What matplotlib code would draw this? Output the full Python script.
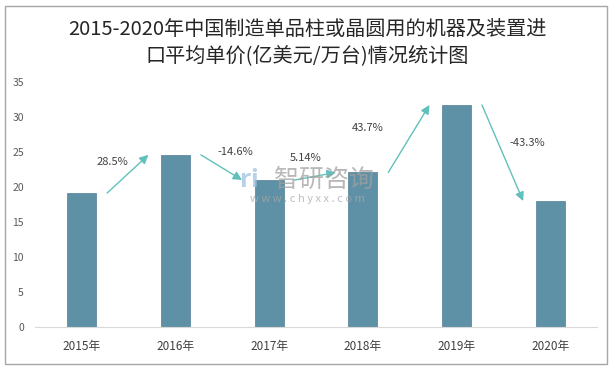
import matplotlib.pyplot as plt
import matplotlib.patches as patches
import numpy as np

plt.rcParams['font.family'] = ['Noto Sans CJK SC', 'DejaVu Sans']

years = ['2015年', '2016年', '2017年', '2018年', '2019年', '2020年']
prices = [19.15, 24.6, 21.0, 22.08, 31.73, 18.0]
growth = ['28.5%', '-14.6%', '5.14%', '43.7%', '-43.3%']

# label offsets from arrow start (x in categories, y in data units)
lab_off = [(0.06, 4.4), (0.37, 0.4), (0.12, 3.1), (-0.22, 6.3), (0.48, -5.4)]

bar_c = '#5E90A6'
arr_c = '#62C0BC'

fig = plt.figure(figsize=(6.15, 3.7), dpi=100)
ax = fig.add_axes([0.057, 0.1162, 0.914, 0.662])

x = np.arange(len(years))
ax.bar(x, prices, width=0.31, color=bar_c, edgecolor='#4F7F95', linewidth=0.5, zorder=2)

for i, g in enumerate(growth):
    x0, y0 = i + 0.27, prices[i]
    x1, y1 = i + 0.71, prices[i + 1]
    ax.annotate('', xy=(x1, y1), xytext=(x0, y0),
                arrowprops=dict(arrowstyle='-|>', color=arr_c, lw=1.0,
                                mutation_scale=13, shrinkA=0, shrinkB=0),
                zorder=3)
    dx, dy = lab_off[i]
    ax.text(x0 + dx, y0 + dy, g, fontsize=8, color='#404040',
            ha='center', va='center', zorder=4)

ax.set_xlim(-0.5, 5.5)
ax.set_ylim(0, 35)
ax.set_yticks(np.arange(0, 36, 5))
ax.set_xticks(x)
ax.set_xticklabels(years)
ax.tick_params(axis='y', length=0, labelsize=7.5, labelcolor='#595959', pad=8)
ax.tick_params(axis='x', length=0, labelsize=8.5, labelcolor='#404040', pad=9)
for s in ['top', 'right', 'left']:
    ax.spines[s].set_visible(False)
ax.spines['bottom'].set_color('#D9D9D9')

# watermark
fig.text(0.527, 0.514, '智研咨询', fontsize=18, color='#A0A0A0', alpha=0.75,
         ha='center', va='center')
fig.text(0.500, 0.463, 'w w w . c h y x x . c o m', fontsize=8, color='#A8A8A8',
         alpha=0.75, ha='center', va='center')
fig.text(0.405, 0.514, 'ri', fontsize=18, color='#9EC3DE', alpha=0.75,
         ha='center', va='center', fontweight='bold')

fig.text(0.5, 0.919, '2015-2020年中国制造单品柱或晶圆用的机器及装置进',
         fontsize=14.5, color='#262626', ha='center', va='center')
fig.text(0.5, 0.851, '口平均单价(亿美元/万台)情况统计图',
         fontsize=14.5, color='#262626', ha='center', va='center')

border = patches.Rectangle((5 / 615, 6 / 370), 602 / 615, 358 / 370,
                           transform=fig.transFigure, fill=False,
                           edgecolor='#A6A6A6', lw=1.0)
fig.patches.append(border)

fig.savefig('out.png', dpi=100)
